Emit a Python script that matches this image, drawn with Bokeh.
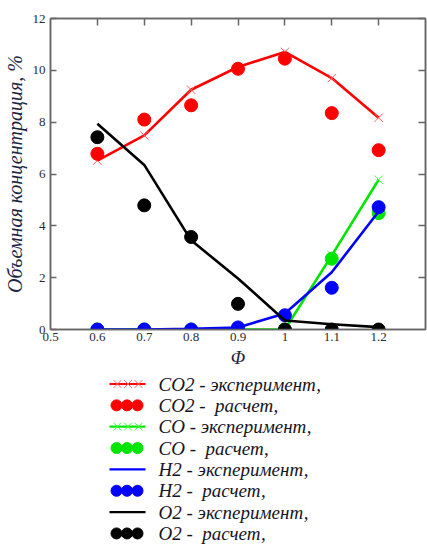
import math
from bokeh.plotting import figure
from bokeh.layouts import column
from bokeh.models import Range1d, LinearAxis, FixedTicker
from bokeh.core.properties import value
from bokeh.embed import file_html
from bokeh.resources import INLINE

# Equivalence ratio
phi = [0.6, 0.7, 0.8, 0.9, 1.0, 1.1, 1.2]

# Volume concentrations, %
co2_exp = [6.52, 7.49, 9.25, 10.13, 10.71, 9.70, 8.17]
co2_calc = [6.78, 8.10, 8.65, 10.06, 10.45, 8.35, 6.92]
co_exp = [0.0, 0.0, 0.0, 0.0, 0.0, 2.86, 5.78]
co_calc = [0.0, 0.0, 0.0, 0.0, 0.0, 2.73, 4.49]
h2_exp = [0.0, 0.0, 0.03, 0.08, 0.62, 2.21, 4.55]
h2_calc = [0.0, 0.0, 0.0, 0.08, 0.55, 1.61, 4.72]
o2_exp = [7.94, 6.35, 3.44, 1.97, 0.35, 0.20, 0.09]
o2_calc = [7.42, 4.79, 3.57, 0.99, 0.0, 0.0, 0.0]

x_ticks = [0.5, 0.6, 0.7, 0.8, 0.9, 1.0, 1.1, 1.2]
x_tick_labels = ["0.5", "0.6", "0.7", "0.8", "0.9", "1", "1.1", "1.2"]
y_ticks = [0, 2, 4, 6, 8, 10, 12]
y_tick_labels = ["0", "2", "4", "6", "8", "10", "12"]

legend_labels = [
    "CO2 - эксперимент,",
    "CO2 - \u00a0расчет,",
    "CO - эксперимент,",
    "CO - \u00a0расчет,",
    "H2 - эксперимент,",
    "H2 - \u00a0расчет,",
    "O2 - эксперимент,",
    "O2 - \u00a0расчет,",
]

RED = "#ff0000"
GREEN = "#00e600"
BLUE = "#0000ff"
BLACK = "#000000"
AXIS = "#666666"
TICK_TEXT = "#2b2b33"
LABEL_TEXT = "#1c2540"
SERIF = "Liberation Serif"

MAIN_H = 372
LEFT_B, RIGHT_B = 50, 2

p = figure(
    width=427, height=MAIN_H,
    x_range=Range1d(0.5, 1.3), y_range=Range1d(0, 12),
    output_backend="svg", toolbar_location=None,
    min_border_left=LEFT_B, min_border_right=RIGHT_B,
    min_border_top=18, min_border_bottom=43,
)
p.grid.visible = False
p.outline_line_color = AXIS
p.outline_line_width = 1.5
p.background_fill_color = "white"
p.border_fill_color = "white"

# bottom axis: labels only
xa = p.xaxis[0]
xa.ticker = FixedTicker(ticks=x_ticks)
xa.major_label_overrides = {t: s for t, s in zip(x_ticks, x_tick_labels)}
xa.major_tick_in = 0
xa.major_tick_out = 0
xa.minor_tick_in = 0
xa.minor_tick_out = 0
xa.axis_line_color = AXIS
xa.axis_line_width = 1.5
xa.major_label_standoff = 3
xa.major_label_text_font = SERIF
xa.major_label_text_font_size = "13px"
xa.major_label_text_color = TICK_TEXT
xa.axis_label = "Φ"
xa.axis_label_text_font = SERIF
xa.axis_label_text_font_style = "italic"
xa.axis_label_text_font_size = "19px"
xa.axis_label_text_color = LABEL_TEXT
xa.axis_label_standoff = 3

# left axis: inward ticks
ya = p.yaxis[0]
ya.ticker = FixedTicker(ticks=y_ticks)
ya.major_label_overrides = {t: s for t, s in zip(y_ticks, y_tick_labels)}
ya.major_tick_in = 6
ya.major_tick_out = 0
ya.minor_tick_in = 0
ya.minor_tick_out = 0
ya.major_tick_line_color = AXIS
ya.major_tick_line_width = 1.5
ya.axis_line_color = AXIS
ya.axis_line_width = 1.5
ya.major_label_standoff = 5
ya.major_label_text_font = SERIF
ya.major_label_text_font_size = "13px"
ya.major_label_text_color = TICK_TEXT
ya.axis_label = "Объемная концентрация, %"
ya.axis_label_text_font = SERIF
ya.axis_label_text_font_style = "italic"
ya.axis_label_text_font_size = "20px"
ya.axis_label_text_color = LABEL_TEXT
ya.axis_label_standoff = 4


# top and right frame ticks, pointing inward, without labels
def frame_axis(ticks):
    return LinearAxis(
        ticker=FixedTicker(ticks=ticks),
        major_label_overrides={t: "" for t in ticks},
        major_tick_in=7, major_tick_out=0, minor_tick_in=0, minor_tick_out=0,
        major_tick_line_color=AXIS, major_tick_line_width=1.5,
        axis_line_color=AXIS, axis_line_width=1.5,
        major_label_standoff=0,
    )


p.add_layout(frame_axis(x_ticks[1:]), "above")
p.add_layout(frame_axis(y_ticks[1:]), "right")

LW = 2.6
DOT = 13


def calc_dots(xs, ys, color):
    # points lying on the x axis show only their upper half inside the frame
    full = [(x, y) for x, y in zip(xs, ys) if y > 0]
    flat = [(x, y) for x, y in zip(xs, ys) if y <= 0]
    if full:
        p.scatter([a for a, _ in full], [b for _, b in full], marker="circle",
                  size=DOT, fill_color=color, line_color=color)
    if flat:
        p.wedge([a for a, _ in flat], [b for _, b in flat], radius=DOT / 2,
                radius_units="screen", start_angle=0, end_angle=math.pi,
                fill_color=color, line_color=color)


p.line(phi, co2_exp, line_color=RED, line_width=LW)
p.scatter(phi, co2_exp, marker="x", size=12, line_color="#ff6060", line_width=1)
calc_dots(phi, co2_calc, RED)

p.line(phi, co_exp, line_color=GREEN, line_width=LW)
p.scatter(phi, co_exp, marker="x", size=12, line_color="#40ff40", line_width=1)
calc_dots(phi, co_calc, GREEN)

p.line(phi, h2_exp, line_color=BLUE, line_width=LW)
calc_dots(phi, h2_calc, BLUE)

p.line(phi, o2_exp, line_color=BLACK, line_width=LW)
calc_dots(phi, o2_calc, BLACK)

# legend panel below the chart; its frame lines up with the chart frame,
# so its x range spans the same pixel columns (page pixels as units)
LG_H = 544 - MAIN_H
lg = figure(
    width=427, height=LG_H,
    x_range=Range1d(LEFT_B, 427 - RIGHT_B), y_range=Range1d(LG_H, 0),
    output_backend="svg", toolbar_location=None,
    x_axis_location=None, y_axis_location=None,
    min_border_left=LEFT_B, min_border_right=RIGHT_B,
    min_border_top=0, min_border_bottom=0,
)
lg.grid.visible = False
lg.outline_line_color = None

kinds = ["exp_x", "dot", "exp_x", "dot", "exp", "dot", "exp", "dot"]
colors = [RED, RED, GREEN, GREEN, BLUE, BLUE, BLACK, BLACK]
x_colors = ["#ff6060", None, "#40ff40", None, None, None, None, None]
row_y = [11.5 + 21.35 * i for i in range(len(legend_labels))]

for lab, kind, col, xc, yy in zip(legend_labels, kinds, colors, x_colors, row_y):
    if kind.startswith("exp"):
        lg.line([109, 145], [yy, yy], line_color=col, line_width=2.2)
        if kind == "exp_x":
            lg.scatter([117, 127.5, 138], [yy] * 3, marker="x", size=11,
                       line_color=xc, line_width=1)
    else:
        lg.scatter([116, 126.5, 137], [yy] * 3, marker="circle", size=11,
                   fill_color=col, line_color=col)
    lg.text([158], [yy], text=[lab], text_font=value(SERIF),
            text_font_style="italic", text_font_size="19px",
            text_color="#15151f", text_baseline="middle", text_align="left")

layout = column(p, lg, spacing=0)
open("out.html", "w").write(file_html(layout, INLINE))
